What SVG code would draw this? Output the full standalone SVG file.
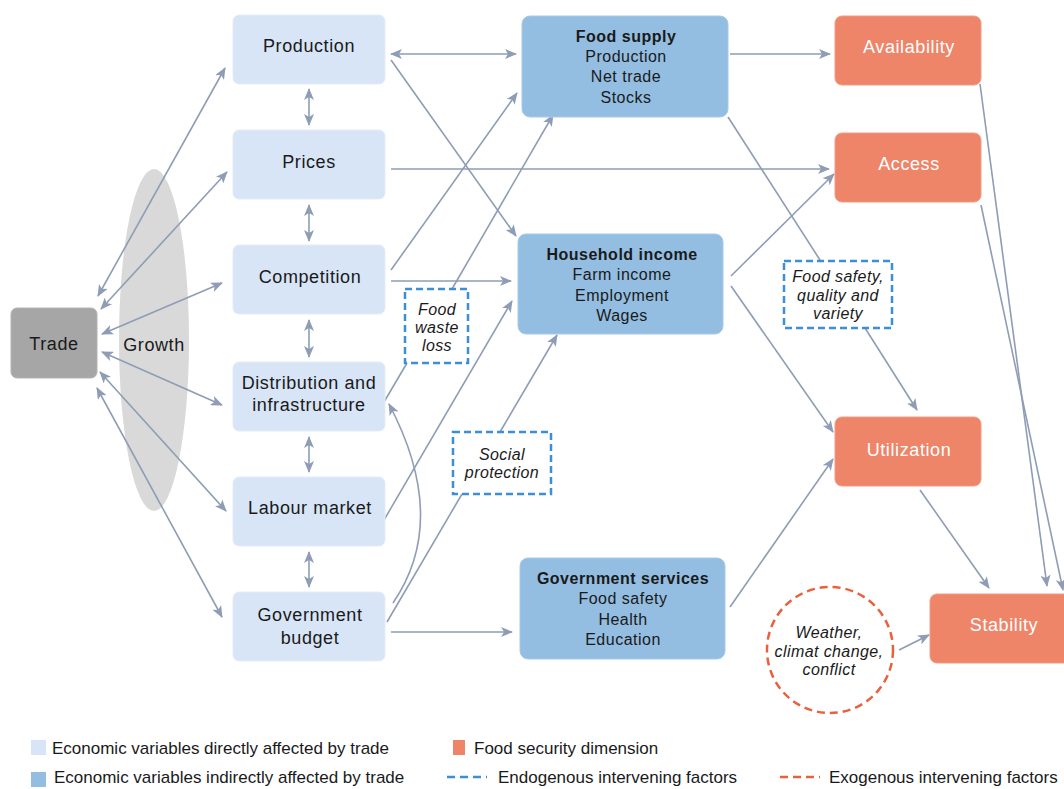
<svg xmlns="http://www.w3.org/2000/svg" width="1064" height="789" viewBox="0 0 1064 789">
<style>
text{font-family:"Liberation Sans",Arial,sans-serif;fill:#1a1a1a;text-anchor:middle;dominant-baseline:central}
.n{font-size:18px;letter-spacing:0.6px}
.b{font-size:16px;font-weight:bold;letter-spacing:0.5px}
.s{font-size:16px;letter-spacing:0.5px}
.w{font-size:18px;fill:#ffffff;letter-spacing:0.6px}
.i{font-size:16px;font-style:italic;letter-spacing:0.4px}
.lg{font-size:17px;text-anchor:start}
.lb{fill:#D7E5F6;stroke:#E4EDF8;stroke-width:1}
.mb{fill:#93BEE2;stroke:#A6CAE8;stroke-width:1}
.or{fill:#EE8468;stroke:#F29A82;stroke-width:1}
.dz{fill:#ffffff;stroke:#3A8FD6;stroke-width:2.5;stroke-dasharray:7,4}
.c line,.c path,.c polyline{stroke:#8E9DB5;stroke-width:1.6;fill:none}
.a{marker-end:url(#ah)}
.d{marker-end:url(#ah);marker-start:url(#ah)}
</style>
<defs>
<marker id="ah" viewBox="0 0 12 10" refX="11" refY="5" markerWidth="12" markerHeight="10" markerUnits="userSpaceOnUse" orient="auto-start-reverse">
<path d="M0,0 L12,5 L0,10 L3,5 z" fill="#8E9DB5"/>
</marker>
</defs>
<rect width="1064" height="789" fill="#ffffff"/>

<g id="growth">
<ellipse cx="154" cy="340" rx="35" ry="171" fill="#D9D9D9"/>
<text class="n" x="154" y="345">Growth</text>
</g>

<g class="c" id="connectors">
<line class="d" x1="98" y1="296" x2="225" y2="68"/>
<line class="d" x1="101" y1="309" x2="227" y2="172"/>
<line class="d" x1="102" y1="334" x2="222" y2="283"/>
<line class="d" x1="102" y1="352" x2="222" y2="405"/>
<line class="d" x1="100" y1="372" x2="226" y2="511"/>
<line class="d" x1="97" y1="388" x2="222" y2="617"/>
<line class="d" x1="309" y1="89" x2="309" y2="125"/>
<line class="d" x1="309" y1="205" x2="309" y2="241"/>
<line class="d" x1="309" y1="320" x2="309" y2="357"/>
<line class="d" x1="309" y1="437" x2="309" y2="472"/>
<line class="d" x1="309" y1="552" x2="309" y2="587"/>
<line class="d" x1="391" y1="54" x2="516" y2="54"/>
<line class="a" x1="391" y1="60" x2="516" y2="236"/>
<line class="a" x1="391" y1="169" x2="829" y2="169"/>
<line class="a" x1="391" y1="270" x2="517" y2="93"/>
<line class="a" x1="391" y1="281" x2="511" y2="281"/>
<line x1="384" y1="402" x2="407" y2="363"/>
<line class="a" x1="452" y1="289" x2="553" y2="115"/>
<line class="a" x1="384" y1="520" x2="512" y2="301"/>
<path class="a" d="M393,603 Q450,520 389,404"/>
<line x1="387" y1="622" x2="462" y2="494"/>
<line class="a" x1="500" y1="432" x2="557" y2="335"/>
<line class="a" x1="391" y1="632" x2="512" y2="632"/>
<line class="a" x1="730" y1="54" x2="830" y2="54"/>
<line x1="728" y1="117" x2="820" y2="260"/>
<line class="a" x1="865" y1="328" x2="917" y2="410"/>
<line class="a" x1="731" y1="276" x2="834" y2="174"/>
<line class="a" x1="731" y1="286" x2="833" y2="432"/>
<line class="a" x1="730" y1="607" x2="833" y2="459"/>
<line class="a" x1="920" y1="490" x2="989" y2="588"/>
<line class="a" x1="980" y1="84" x2="1047" y2="586"/>
<line class="a" x1="981" y1="205" x2="1063" y2="590"/>
<line class="a" x1="899" y1="650" x2="929" y2="635"/>
</g>

<g id="trade">
<rect x="11" y="308" width="86" height="70" rx="6" fill="#A6A6A6" stroke="#B3B3B3"/>
<text class="n" x="54" y="344">Trade</text>
</g>

<g id="production"><rect class="lb" x="233" y="15" width="152" height="69" rx="6"/><text class="n" x="309" y="46">Production</text></g>
<g id="prices"><rect class="lb" x="233" y="130" width="152" height="69" rx="6"/><text class="n" x="309" y="162">Prices</text></g>
<g id="competition"><rect class="lb" x="233" y="245" width="152" height="69" rx="6"/><text class="n" x="310" y="277">Competition</text></g>
<g id="distribution"><rect class="lb" x="233" y="362" width="152" height="69" rx="6"/><text class="n" x="309" y="383">Distribution and</text><text class="n" x="309" y="405">infrastructure</text></g>
<g id="labour"><rect class="lb" x="233" y="477" width="152" height="69" rx="6"/><text class="n" x="310" y="508">Labour market</text></g>
<g id="budget"><rect class="lb" x="233" y="592" width="152" height="69" rx="6"/><text class="n" x="310" y="615">Government</text><text class="n" x="310" y="638">budget</text></g>

<g id="foodsupply"><rect class="mb" x="522" y="16" width="206" height="101" rx="8"/>
<text class="b" x="626" y="36">Food supply</text><text class="s" x="626" y="56">Production</text><text class="s" x="626" y="76">Net trade</text><text class="s" x="626" y="97">Stocks</text></g>
<g id="household"><rect class="mb" x="518" y="234" width="205" height="100" rx="8"/>
<text class="b" x="622" y="254">Household income</text><text class="s" x="622" y="274">Farm income</text><text class="s" x="622" y="295">Employment</text><text class="s" x="622" y="315">Wages</text></g>
<g id="govservices"><rect class="mb" x="520" y="558" width="205" height="101" rx="8"/>
<text class="b" x="623" y="578">Government services</text><text class="s" x="623" y="598">Food safety</text><text class="s" x="623" y="619">Health</text><text class="s" x="623" y="639">Education</text></g>

<g id="availability"><rect class="or" x="835" y="16" width="146" height="69" rx="7"/><text class="w" x="909" y="47">Availability</text></g>
<g id="access"><rect class="or" x="835" y="133" width="146" height="69" rx="7"/><text class="w" x="909" y="164">Access</text></g>
<g id="utilization"><rect class="or" x="835" y="417" width="146" height="69" rx="7"/><text class="w" x="909" y="450">Utilization</text></g>
<g id="stability"><rect class="or" x="930" y="594" width="146" height="69" rx="7"/><text class="w" x="1004" y="625">Stability</text></g>

<g id="foodwaste"><rect class="dz" x="405" y="289" width="63" height="74"/>
<text class="i" x="437" y="309">Food</text><text class="i" x="437" y="327">waste</text><text class="i" x="437" y="345">loss</text></g>
<g id="social"><rect class="dz" x="453" y="432" width="98" height="62"/>
<text class="i" x="502" y="454">Social</text><text class="i" x="502" y="472">protection</text></g>
<g id="foodsafety"><rect class="dz" x="784" y="261" width="108" height="67"/>
<text class="i" x="838" y="276">Food safety,</text><text class="i" x="838" y="295">quality and</text><text class="i" x="838" y="313">variety</text></g>
<g id="weather"><circle cx="830" cy="650" r="63" fill="#ffffff" stroke="#E8603C" stroke-width="2.5" stroke-dasharray="8,5"/>
<text class="i" x="829" y="632">Weather,</text><text class="i" x="829" y="651">climat change,</text><text class="i" x="829" y="669">conflict</text></g>

<g id="legend">
<rect x="31" y="740" width="15" height="15" fill="#D7E5F6"/>
<text class="lg" x="52" y="748">Economic variables directly affected by trade</text>
<rect x="453" y="740" width="12" height="15" fill="#EE8468"/>
<text class="lg" x="474" y="748">Food security dimension</text>
<rect x="31" y="772" width="15" height="15" fill="#93BEE2"/>
<text class="lg" x="54" y="777">Economic variables indirectly affected by trade</text>
<line x1="447" y1="777" x2="487" y2="777" stroke="#3A8FD6" stroke-width="2.5" stroke-dasharray="8,5"/>
<text class="lg" x="498" y="777">Endogenous intervening factors</text>
<line x1="780" y1="777" x2="820" y2="777" stroke="#E8603C" stroke-width="2.5" stroke-dasharray="8,5"/>
<text class="lg" x="829" y="777">Exogenous intervening factors</text>
</g>
</svg>
